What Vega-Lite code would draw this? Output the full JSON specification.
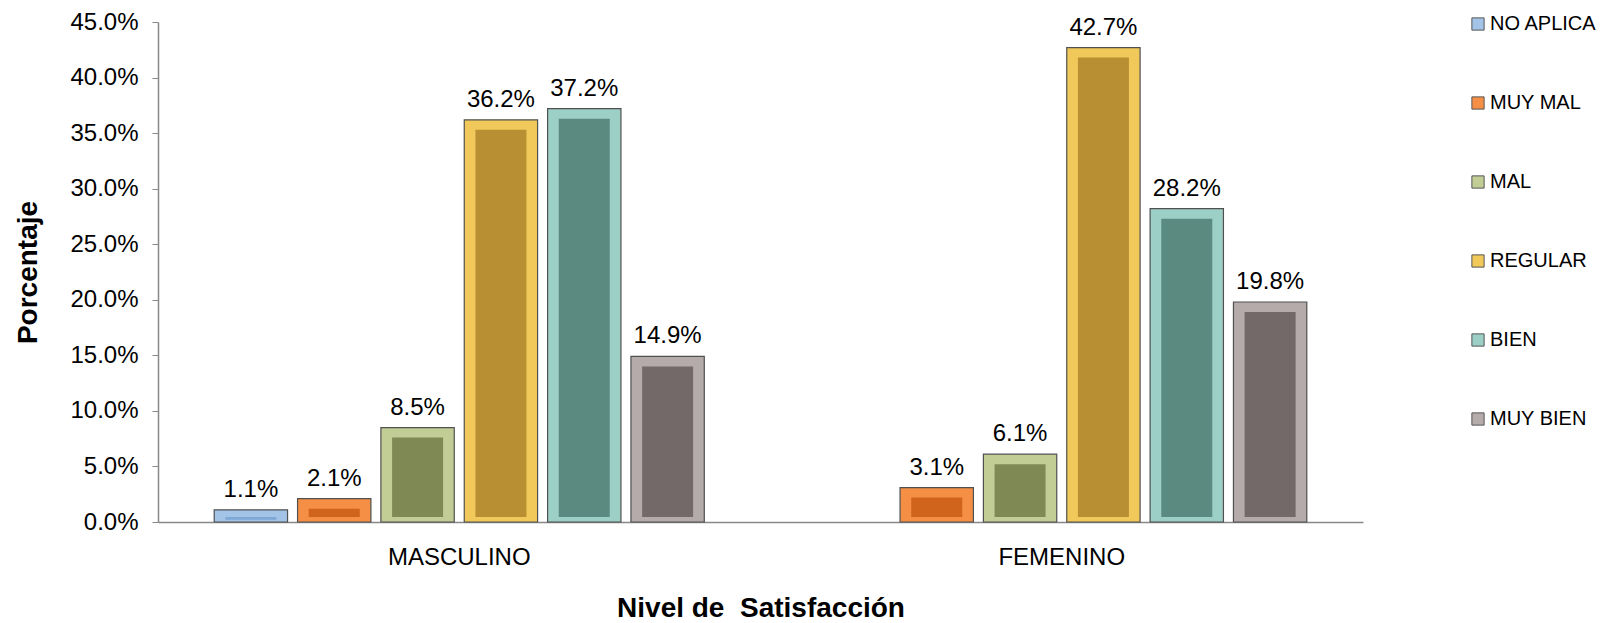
{
  "$schema": "https://vega.github.io/schema/vega-lite/v6.json",
  "width": 1205,
  "height": 500,
  "autosize": {"type": "none"},
  "padding": {"left": 158, "top": 22, "right": 256, "bottom": 101},
  "background": "white",
  "config": {
    "font": "Liberation Sans",
    "view": {"stroke": null}
  },
  "data": {
    "values": [
      {"sexo": "MASCULINO", "nivel": "NO APLICA", "valor": 0.011},
      {"sexo": "MASCULINO", "nivel": "MUY MAL", "valor": 0.021},
      {"sexo": "MASCULINO", "nivel": "MAL", "valor": 0.085},
      {"sexo": "MASCULINO", "nivel": "REGULAR", "valor": 0.362},
      {"sexo": "MASCULINO", "nivel": "BIEN", "valor": 0.372},
      {"sexo": "MASCULINO", "nivel": "MUY BIEN", "valor": 0.149},
      {"sexo": "FEMENINO", "nivel": "MUY MAL", "valor": 0.031},
      {"sexo": "FEMENINO", "nivel": "MAL", "valor": 0.061},
      {"sexo": "FEMENINO", "nivel": "REGULAR", "valor": 0.427},
      {"sexo": "FEMENINO", "nivel": "BIEN", "valor": 0.282},
      {"sexo": "FEMENINO", "nivel": "MUY BIEN", "valor": 0.198}
    ]
  },
  "encoding": {
    "x": {
      "field": "sexo", "type": "nominal", "sort": ["MASCULINO", "FEMENINO"],
      "scale": {"paddingInner": 0.17, "paddingOuter": 0.085},
      "axis": {
        "title": "Nivel de\u00a0 Satisfacción", "titleFontSize": 28, "titleFontWeight": "bold",
        "titleColor": "#000", "titlePadding": 25,
        "labelAngle": 0, "labelFontSize": 24, "labelColor": "#000", "labelPadding": 23,
        "ticks": false, "domainColor": "#888", "domainWidth": 1.5
      }
    },
    "xOffset": {
      "field": "nivel", "type": "nominal",
      "sort": ["NO APLICA", "MUY MAL", "MAL", "REGULAR", "BIEN", "MUY BIEN"],
      "scale": {"paddingInner": 0.12, "paddingOuter": 0.06}
    },
    "y": {
      "field": "valor", "type": "quantitative",
      "scale": {"domain": [0, 0.45], "nice": false},
      "axis": {
        "title": "Porcentaje", "titleFontSize": 28, "titleFontWeight": "bold", "titleColor": "#000",
        "titlePadding": 27,
        "format": ".1%", "values": [0, 0.05, 0.1, 0.15, 0.2, 0.25, 0.3, 0.35, 0.4, 0.45],
        "labelFontSize": 24, "labelColor": "#000", "labelPadding": 14,
        "grid": false, "tickColor": "#888", "tickSize": 6, "domainColor": "#888", "domainWidth": 1.5
      }
    }
  },
  "layer": [
    {
      "mark": {"type": "bar", "stroke": "#505050", "strokeWidth": 1.2},
      "encoding": {
        "color": {
          "field": "nivel", "type": "nominal",
          "sort": ["NO APLICA", "MUY MAL", "MAL", "REGULAR", "BIEN", "MUY BIEN"],
          "scale": {
            "domain": ["NO APLICA", "MUY MAL", "MAL", "REGULAR", "BIEN", "MUY BIEN"],
            "range": ["#a3c4e6", "#f58f45", "#c2cd96", "#f0c95a", "#9ccfc5", "#b5abab"]
          },
          "legend": {
            "title": null, "orient": "none", "legendX": 1310, "legendY": -8, "padding": 0,
            "symbolType": "square", "symbolSize": 150, "symbolStrokeColor": "#555", "symbolStrokeWidth": 1,
            "labelFontSize": 20, "labelColor": "#000", "labelOffset": 2, "rowPadding": 59,
            "labelLimit": 200
          }
        }
      }
    },
    {
      "mark": {"type": "bar", "yOffset": 10, "y2Offset": -5, "width": 51},
      "encoding": {
        "y2": {"datum": 0},
        "color": {
          "field": "nivel", "type": "nominal",
          "scale": {
            "domain": ["NO APLICA", "MUY MAL", "MAL", "REGULAR", "BIEN", "MUY BIEN"],
            "range": ["#7ea8d6", "#d0641c", "#7f8954", "#b88f33", "#5b8a80", "#736969"]
          },
          "legend": null
        }
      }
    },
    {
      "mark": {"type": "text", "baseline": "bottom", "dy": -8, "fontSize": 24, "color": "#000"},
      "encoding": {
        "text": {"field": "valor", "type": "quantitative", "format": ".1%"}
      }
    }
  ],
  "resolve": {"scale": {"color": "independent"}}
}
